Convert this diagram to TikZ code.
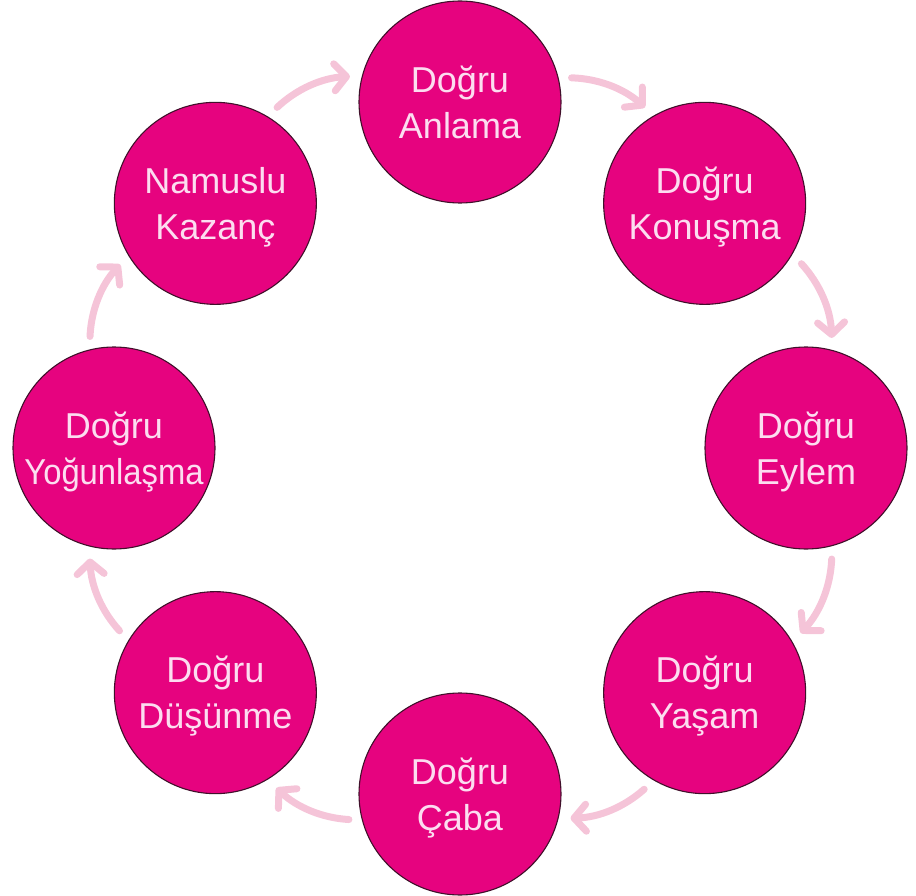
\documentclass[tikz,border=0pt]{standalone}
\usepackage{fontspec}
\setmainfont{Liberation Sans}
\usetikzlibrary{arrows.meta,calc}
\definecolor{circfill}{HTML}{E6037F}
\definecolor{circline}{HTML}{40102A}
\definecolor{txtpink}{HTML}{FCDDF0}
\definecolor{arrpink}{HTML}{F5C4D8}
\tikzset{
  circ/.style={circle, draw=circline, line width=1.1pt, fill=circfill,
    minimum size=202pt, inner sep=0pt, text=txtpink, align=center,
    font=\fontsize{36}{46}\selectfont, text depth=0pt},
  arr/.style={draw=arrpink, line width=7pt, line cap=round,
    -{Straight Barb[length=12pt,width=27pt,round]},
    shorten <=13pt, shorten >=12pt, bend left=20}
}
\begin{document}
\begin{tikzpicture}[x=1pt,y=1pt]
\useasboundingbox (0,0) rectangle (916,-896);
\coordinate (O) at (460,-448);
\node[circ] (an) at ($(O)+(90:346)$) {Doğru\\Anlama};
\node[circ] (ko) at ($(O)+(45:346)$) {Doğru\\Konuşma};
\node[circ] (ey) at ($(O)+(0:346)$) {Doğru\\Eylem};
\node[circ] (ya) at ($(O)+(-45:346)$) {Doğru\\Yaşam};
\node[circ] (ca) at ($(O)+(-90:346)$) {Doğru\\Çaba};
\node[circ] (du) at ($(O)+(-135:346)$) {Doğru\\Düşünme};
\node[circ] (yo) at ($(O)+(180:346)$) {Doğru\\\scalebox{0.91}[1]{Yoğunlaşma}};
\node[circ] (nk) at ($(O)+(135:346)$) {Namuslu\\Kazanç};
\draw[arr] (nk.59.2) to (an.165.8);
\draw[arr] (an.14.2) to (ko.120.8);
\draw[arr] (ko.-30.8) to (ey.75.8);
\draw[arr] (ey.-75.8) to (ya.30.8);
\draw[arr] (ya.-120.8) to (ca.-14.2);
\draw[arr] (ca.-165.8) to (du.-59.2);
\draw[arr] (du.149.2) to (yo.-104.2);
\draw[arr] (yo.104.2) to (nk.-149.2);
\end{tikzpicture}
\end{document}
